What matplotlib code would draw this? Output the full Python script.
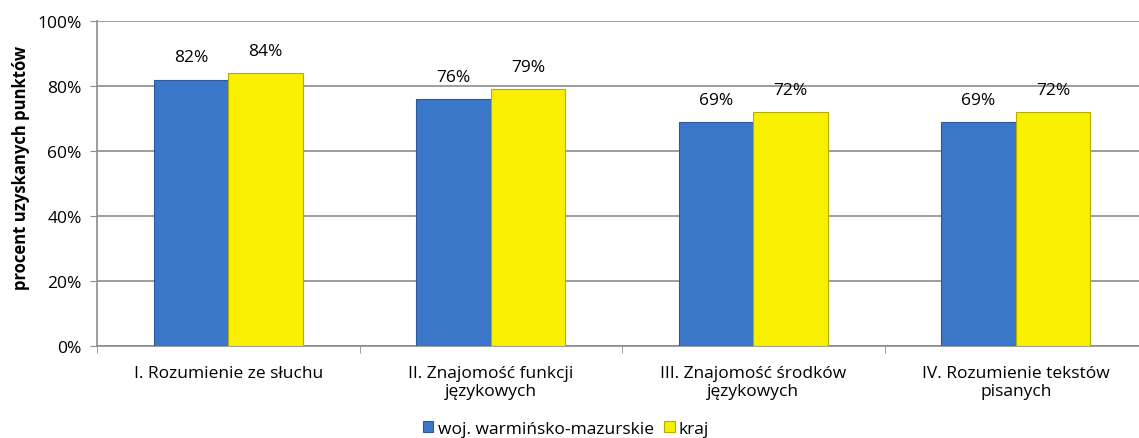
import matplotlib.pyplot as plt
import numpy as np
from matplotlib.ticker import PercentFormatter

plt.rcParams['font.family'] = ['Open Sans', 'DejaVu Sans']

categories = ["I. Rozumienie ze słuchu", "II. Znajomość funkcji\njęzykowych",
              "III. Znajomość środków\njęzykowych", "IV. Rozumienie tekstów\npisanych"]
woj = [82, 76, 69, 69]
kraj = [84, 79, 72, 72]
series_names = ["woj. warmińsko-mazurskie", "kraj"]

fs = 12.5
fig = plt.figure(figsize=(11.39, 4.39), dpi=100)
# plot area runs a little past the right edge, as in the original
ax = fig.add_axes([97/1139, 1 - 347/439, 1050/1139, 325/439])

x = np.arange(len(categories))
w = 0.283
b1 = ax.bar(x - w/2, woj, w, color='#3a77c9', edgecolor='#2b5a9a', linewidth=0.8,
            label=series_names[0], zorder=3)
b2 = ax.bar(x + w/2, kraj, w, color='#f8f000', edgecolor='#b5ad00', linewidth=0.8,
            label=series_names[1], zorder=3)

for bars in (b1, b2):
    for r in bars:
        ax.text(r.get_x() + r.get_width()/2, r.get_height() + 6.8, f"{r.get_height():.0f}%",
                ha='center', va='center', fontsize=fs)

ax.set_xlim(-0.5, len(categories) - 0.5)
ax.set_ylim(0, 100)
ax.set_yticks(range(0, 101, 20))
ax.yaxis.set_major_formatter(PercentFormatter(decimals=0))
ax.grid(axis='y', color='#8c8c8c', linewidth=1.2, zorder=0)
ax.set_xticks(x)
ax.set_xticklabels(categories, fontsize=fs, linespacing=1.15)
ax.set_xticks(np.arange(-0.5, len(categories)), minor=True)
ax.tick_params(axis='x', which='major', length=0, pad=14)
ax.tick_params(axis='x', which='minor', length=5, color='#8c8c8c')
ax.tick_params(axis='y', length=5, color='#8c8c8c', labelsize=fs, pad=6)
for s in ['top', 'right']:
    ax.spines[s].set_visible(False)
for s in ['left', 'bottom']:
    ax.spines[s].set_color('#8c8c8c')
    ax.spines[s].set_linewidth(1.2)
ax.set_ylabel("procent uzyskanych punktów", fontsize=12, fontweight='bold')
ax.yaxis.set_label_coords(-0.064, 0.55)

fig.legend(handles=[b1, b2], loc='center', bbox_to_anchor=(0.497, 1 - 430/439), ncol=2,
           frameon=False, fontsize=fs, handlelength=0.6, handleheight=0.6,
           handletextpad=0.25, columnspacing=0.6, borderpad=0)

fig.savefig("out.png", dpi=100)
